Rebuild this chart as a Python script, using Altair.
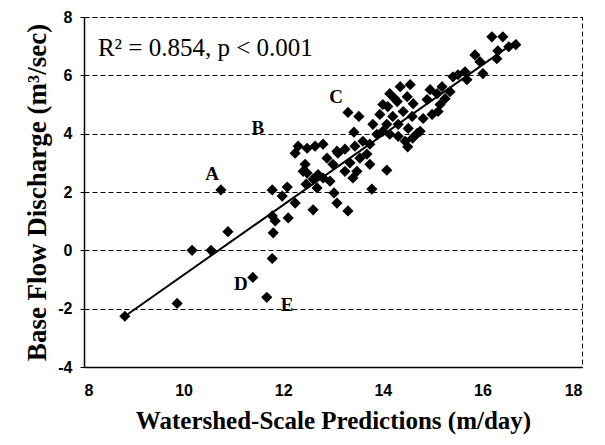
import altair as alt
import pandas as pd

# scatter data (watershed-scale predictions vs base flow discharge)
pred = [8.82, 9.87, 10.17, 10.55, 10.89, 10.75, 11.39, 11.67, 11.78,
        11.78, 11.98, 12.08, 12.24, 11.78, 11.84, 12.10, 11.80, 12.46, 12.60, 13.02, 13.08, 13.30,
        12.68, 12.80, 12.94, 12.48,
        12.30, 12.48, 12.64, 12.80, 12.24, 12.44, 12.40, 12.60,
        13.30, 13.52, 13.42, 14.08, 13.40, 13.78,
        13.10, 13.24, 13.44, 13.60, 13.74, 13.34, 13.54, 13.68, 13.74, 13.48, 13.24, 13.88, 13.80,
        13.94, 14.10, 14.24, 13.08, 12.88, 13.00, 12.70,
        16.19, 16.41, 16.67, 16.53, 16.31, 16.29, 15.85, 15.95, 16.01, 15.65, 15.51, 15.41, 15.69,
        15.19, 15.09, 15.35, 15.25, 15.15, 14.95, 14.89, 15.11, 14.99, 14.81, 14.75,
        14.55, 14.35, 14.14, 14.00, 14.29, 14.49, 14.61, 14.41, 14.20, 14.59, 14.08, 14.31, 14.51,
        14.69, 14.45, 14.31, 14.14, 14.00, 14.50, 14.60]
disch = [-2.26, -1.82, 0.00, 0.00, 0.64, 2.07, -0.93, -1.61, -0.28,
         2.07, 1.86, 2.17, 1.62, 1.18, 1.01, 1.11, 0.60, 2.27, 1.39, 1.97, 1.62, 1.35,
         2.14, 2.48, 2.37, 2.65,
         3.57, 3.50, 3.57, 3.64, 3.33, 2.95, 2.71, 2.44,
         4.73, 4.59, 4.05, 2.75, 2.48, 2.10,
         3.33, 3.47, 3.57, 3.74, 3.64, 3.00, 3.16, 3.30, 2.95, 2.71, 2.71, 3.98, 4.32,
         4.66, 4.93, 5.20, 3.40, 3.16, 2.95, 2.60,
         7.32, 7.32, 7.05, 6.98, 6.84, 6.57, 6.70, 6.47, 6.06, 6.12, 6.02, 5.95, 5.85,
         5.61, 5.37, 5.44, 5.20, 5.00, 5.51, 5.17, 4.76, 4.66, 4.52, 4.08,
         5.68, 5.61, 5.37, 5.00, 5.10, 5.27, 5.03, 4.76, 4.59, 4.59, 4.32, 4.32, 4.18,
         4.01, 3.74, 3.91, 3.98, 4.08, 3.55, 3.85]

# fitted line end points
fit_x = [8.82, 16.70]
fit_y = [-2.26, 7.20]

# outlier labels
lab_text = ["A", "B", "C", "D", "E"]
lab_x = [10.57, 11.49, 13.06, 11.15, 12.08]
lab_y = [2.61, 4.18, 5.27, -1.14, -1.89]

stat_text = ["R² = 0.854, p < 0.001"]
stat_x = [8.28]
stat_y = [6.95]

x_ticks = [8, 10, 12, 14, 16, 18]
y_ticks = [-4, -2, 0, 2, 4, 6, 8]

pts = pd.DataFrame({"x": pred, "y": disch})
fit = pd.DataFrame({"x": fit_x, "y": fit_y})
labs = pd.DataFrame({"t": lab_text, "x": lab_x, "y": lab_y})
stat = pd.DataFrame({"t": stat_text, "x": stat_x, "y": stat_y})

xs = alt.Scale(domain=[8, 18], nice=False, zero=False)
ys = alt.Scale(domain=[-4, 8], nice=False, zero=False)

xax = alt.Axis(title="Watershed-Scale Predictions (m/day)", values=x_ticks, grid=False,
               tickSize=0, labelPadding=15, labelFont="Liberation Sans", labelFontSize=16,
               labelFontWeight="bold", labelColor="black", domainColor="black", domainWidth=1.5,
               labelExpr="'' + datum.value",
               titleFont="Liberation Serif", titleFontSize=25, titleFontWeight="bold",
               titleColor="black", titlePadding=10)
yax = alt.Axis(title="Base Flow Discharge (m³/sec)", values=y_ticks, grid=True,
               gridColor="black", gridDash=[5, 3], gridWidth=1,
               tickSize=4, tickColor="black", labelPadding=8, labelFont="Liberation Sans",
               labelFontSize=16, labelFontWeight="bold", labelColor="black",
               labelExpr="'' + datum.value",
               domainColor="black", domainWidth=1.5,
               titleFont="Liberation Serif", titleFontSize=27, titleFontWeight="bold",
               titleColor="black", titlePadding=6)

points = alt.Chart(pts).mark_point(shape="diamond", filled=True, color="black",
                                   size=125, opacity=1).encode(
    x=alt.X("x:Q", scale=xs, axis=xax),
    y=alt.Y("y:Q", scale=ys, axis=yax),
)

line = alt.Chart(fit).mark_line(color="black", strokeWidth=2).encode(
    x=alt.X("x:Q", scale=xs), y=alt.Y("y:Q", scale=ys))

letters = alt.Chart(labs).mark_text(font="Liberation Serif", fontSize=19, fontWeight="bold",
                                    color="black").encode(
    x=alt.X("x:Q", scale=xs), y=alt.Y("y:Q", scale=ys), text="t:N")

stat_lbl = alt.Chart(stat).mark_text(font="Liberation Serif", fontSize=25, align="left",
                                     color="black").encode(
    x=alt.X("x:Q", scale=xs), y=alt.Y("y:Q", scale=ys), text="t:N")

chart = alt.layer(line, points, letters, stat_lbl).properties(
    width=498, height=350,
    autosize=alt.AutoSizeParams(type="none"),
    padding={"left": 76, "top": 9, "right": 15, "bottom": 70},
).configure_view(stroke="black", strokeDash=[5, 3], strokeWidth=1)

chart.save("out.html", embed_options={"renderer": "svg", "actions": False})
